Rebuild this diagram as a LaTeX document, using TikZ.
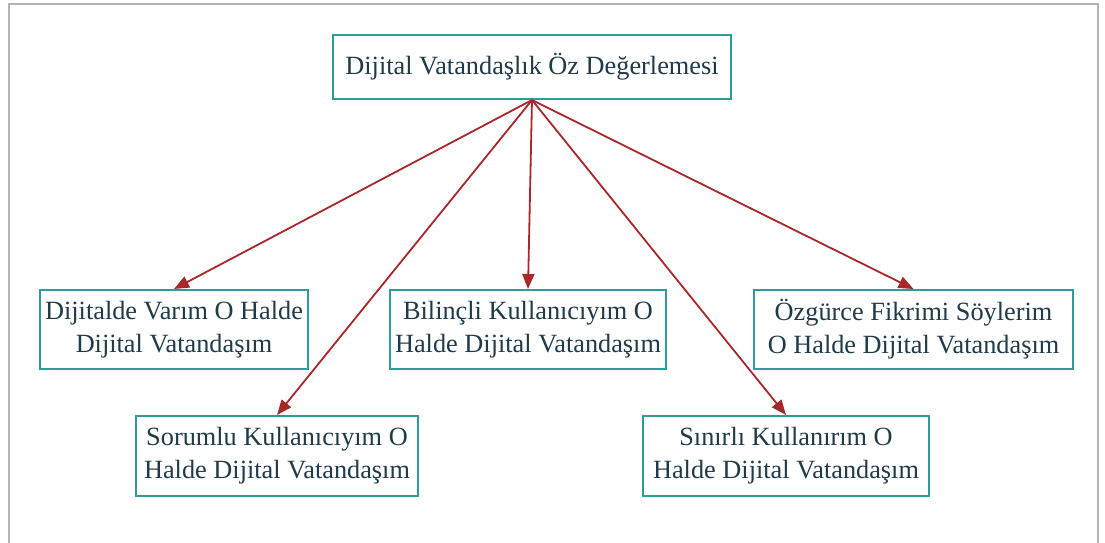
\documentclass[tikz,border=0pt]{standalone}
\usepackage{fontspec}
\setmainfont{Liberation Serif}
\usetikzlibrary{arrows.meta}
\definecolor{boxline}{HTML}{2E9C98}
\definecolor{txt}{HTML}{1F3A48}
\definecolor{arr}{HTML}{A8272A}
\definecolor{frame}{HTML}{B4B4B4}
\begin{document}
\begin{tikzpicture}[x=1pt,y=-1pt,
  box/.style={draw=boxline, line width=2pt, fill=white, text=txt, inner sep=0pt,
    align=center, font=\fontsize{26.3}{33}\selectfont},
  link/.style={draw=arr, line width=1.8pt, -{Triangle[length=15pt,width=12pt]}}]
\useasboundingbox (0,0) rectangle (1105,542);
\draw[frame, line width=1.6pt] (9,545) -- (9,4) -- (1098,4) -- (1098,545);
\node[box, minimum width=398pt, minimum height=64pt] (top) at (532,67) {Dijital Vatandaşlık Öz Değerlemesi};
\node[box, minimum width=268pt, minimum height=79pt] (b1) at (174,329.5) {Dijitalde Varım O Halde\\Dijital Vatandaşım};
\node[box, minimum width=282pt, minimum height=80pt] (b2) at (277,456) {Sorumlu Kullanıcıyım O\\Halde Dijital Vatandaşım};
\node[box, minimum width=276pt, minimum height=79pt] (b3) at (528,329.5) {Bilinçli Kullanıcıyım O\\Halde Dijital Vatandaşım};
\node[box, minimum width=286pt, minimum height=80pt] (b4) at (786,456) {Sınırlı Kullanırım O\\Halde Dijital Vatandaşım};
\node[box, minimum width=319pt, minimum height=79pt] (b5) at (913.5,329.5) {Özgürce Fikrimi Söylerim\\O Halde Dijital Vatandaşım};
\foreach \b in {b1,b2,b3,b4,b5}{
  \draw[link] (top.south) -- (\b.north);
}
\end{tikzpicture}
\end{document}
